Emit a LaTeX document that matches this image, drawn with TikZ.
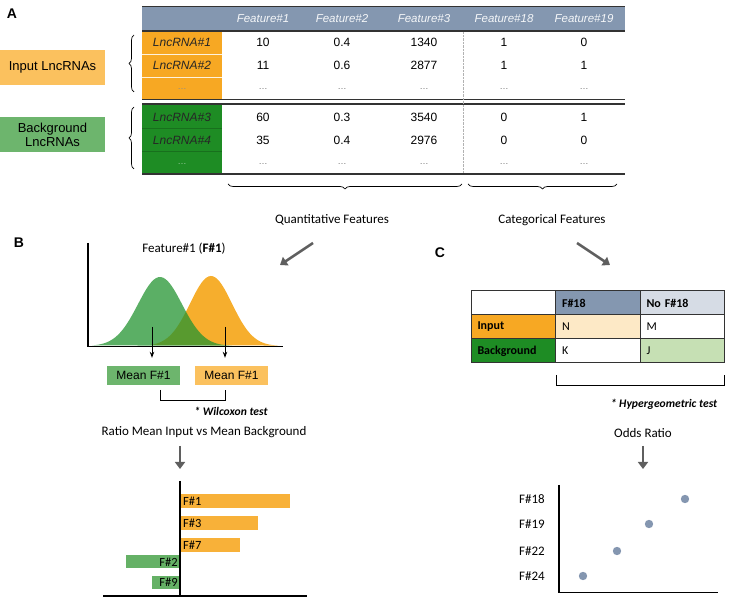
\documentclass[tikz,border=0pt]{standalone}
\usepackage{fontspec}
\setmainfont{Liberation Sans}
\newfontfamily\calib{Carlito}
\usetikzlibrary{arrows.meta,decorations.pathreplacing}
\definecolor{hdrc}{HTML}{8497B0}
\definecolor{hdrlc}{HTML}{D6DCE5}
\definecolor{inpc}{HTML}{F7A823}
\definecolor{inplc}{HTML}{FBC15E}
\definecolor{inpxc}{HTML}{FDE9C6}
\definecolor{bgc}{HTML}{1E8C24}
\definecolor{bglc}{HTML}{6DB56D}
\definecolor{bgxc}{HTML}{C6E0B4}
\definecolor{curgc}{HTML}{249431}
\definecolor{curoc}{HTML}{F6AE2D}
\definecolor{arrc}{HTML}{5F5F5F}
\definecolor{dotc}{HTML}{8496B0}

\tikzset{
  txt/.style={font=\fontsize{12}{14}\selectfont, inner sep=1pt},
  cal/.style={font=\calib\fontsize{13}{15}\selectfont, inner sep=1pt},
  calb/.style={font=\calib\bfseries\fontsize{12}{14}\selectfont},
  note/.style={font=\calib\bfseries\itshape\fontsize{11.6}{14}\selectfont, inner sep=1pt},
  panel/.style={font=\bfseries\fontsize{14}{16}\selectfont, inner sep=0pt},
  fatarrow/.style={-{Triangle[length=7pt,width=10pt]}, line width=2.6pt, arrc},
  brace/.style={decorate, decoration={brace, amplitude=5pt}, line width=0.7pt},
  cellbox/.style={draw=black!80, line width=1pt, minimum width=84.5, minimum height=24, inner sep=0pt,
    font=\calib\fontsize{12}{14}\selectfont, text width=72, align=left}
}

\begin{document}
\begin{tikzpicture}[x=1pt, y=-1pt]
  \useasboundingbox (0,0) rectangle (732,609);

  % ---- A: feature table
  \node[panel] (pa) at (12,14) {A};
  \fill[hdrc] (142,7) rectangle (625,30);
  \fill[inpc] (142,31) rectangle (222,99);
  \fill[bgc] (142,104) rectangle (222,173);
  \draw[white!85!inpc, line width=0.4pt] (142,54) -- (222,54) (142,77) -- (222,77);
  \draw[black!20!bgc, line width=0.4pt] (142,128) -- (222,128) (142,151) -- (222,151);
  \draw[black!80, line width=1.6pt] (142,6.5) -- (625,6.5) (142,31) -- (625,31)
    (142,99.5) -- (625,99.5) (142,104) -- (625,104) (142,174) -- (625,174);
  \draw[black!30, densely dotted] (463,32) -- (463,173);

  \foreach \nm/\x in {1/263, 2/342, 3/424, 18/504, 19/584}
    \node[txt, white!92!hdrc, font=\itshape\fontsize{11.5}{13}\selectfont] (h\nm) at (\x,18.5) {Feature\#\nm};

  \foreach \nm/\y/\a/\b/\c/\d/\e in {1/42/10/0.4/1340/1/0, 2/65/11/0.6/2877/1/1,
                                    3/117/60/0.3/3540/0/1, 4/140/35/0.4/2976/0/0} {
    \node[txt, font=\itshape\fontsize{12}{14}\selectfont, text=black!85] (r\nm) at (182,\y) {LncRNA\#\nm};
    \node[txt] at (263,\y) {\a};
    \node[txt] at (342,\y) {\b};
    \node[txt] at (424,\y) {\c};
    \node[txt] at (504,\y) {\d};
    \node[txt] at (584,\y) {\e};
  }
  \foreach \y/\cl in {89/black!45, 164/white!55!bgc}
    \node[txt, \cl, font=\fontsize{9}{10}\selectfont] at (182,\y) {\ldots};
  \foreach \y in {89, 164}
    \foreach \x in {263, 342, 424, 504, 584}
      \node[txt, black!55, font=\fontsize{9}{10}\selectfont] at (\x,\y) {\ldots};

  % group labels and braces
  \node[txt, font=\fontsize{13}{15}\selectfont, fill=inplc, minimum width=105, minimum height=35, inner sep=0pt]
    (inlab) at (52.5,67.5) {Input LncRNAs};
  \node[txt, font=\fontsize{13}{15}\selectfont, fill=bglc, minimum width=105, minimum height=35, inner sep=0pt,
    align=center] (bglab) at (52.5,134.5) {Background\\[-1pt]LncRNAs};
  \draw[brace] (134,92) -- (134,35);
  \draw[brace] (134,169) -- (134,107);
  \draw[brace] (462,184) -- (228,184);
  \draw[brace] (617,184) -- (468,184);
  \node[cal] (qlab) at (332,220) {Quantitative Features};
  \node[cal] (clab) at (552,220) {Categorical Features};

  \coordinate (qa) at (313,243);
  \coordinate (qb) at (280,265);
  \coordinate (ca) at (577,243);
  \coordinate (cb) at (610,265);
  \draw[fatarrow] (qa) -- (qb);
  \draw[fatarrow] (ca) -- (cb);

  % ---- B: quantitative features
  \node[panel] (pb) at (19,243) {B};
  \node[cal] (f1lab) at (184,249) {Feature\#1 (\textbf{F\#1})};
  \fill[curoc] plot[domain=150:278, samples=60, smooth] (\x, {346-70*exp(-((\x-211)/21)^2/2)}) -- cycle;
  \fill[curgc, fill opacity=0.75] plot[domain=92:232, samples=60, smooth] (\x, {346-69*exp(-((\x-160)/22)^2/2)}) -- cycle;
  \draw[line width=1.2pt] (88,243) -- (88,346.5) -- (283,346.5);

  \node[txt, fill=bglc, minimum width=73, minimum height=19, inner sep=0pt] (mg) at (143.5,375.5) {Mean F\#1};
  \node[txt, fill=inplc, minimum width=73, minimum height=19, inner sep=0pt] (mo) at (231.5,375.5) {Mean F\#1};
  \coordinate (ga) at (152,327);
  \coordinate (oa) at (225,327);
  \draw[-{Stealth[length=6pt]}, line width=0.9pt] (ga) -- ([yshift=8pt]ga |- mg.north);
  \draw[-{Stealth[length=6pt]}, line width=0.9pt] (oa) -- ([yshift=8pt]oa |- mo.north);
  \draw[line width=0.8pt] (160,390) -- (160,400) -- (225,400) -- (225,390);
  \node[note] (wlab) at (231,411) {* Wilcoxon test};

  \node[cal] (ratio) at (204,432) {Ratio Mean Input vs Mean Background};
  \coordinate (ra) at (180,446);
  \coordinate (rb) at (180,469);
  \draw[fatarrow] (ra) -- (rb);

  \foreach \nm/\y/\len in {1/501/110, 3/523.5/78, 7/545/60} {
    \fill[inpc!90!white] (180,\y-7) rectangle ++(\len,14);
    \node[cal, font=\calib\fontsize{12.5}{14}\selectfont, anchor=west, inner sep=0pt] (b\nm) at (183,\y) {F\#\nm};
  }
  \foreach \nm/\y/\len in {2/562/54, 9/582.5/28} {
    \fill[bglc!90!bgc] (180,\y-6.5) rectangle ++(-\len,13);
    \node[cal, font=\calib\fontsize{12.5}{14}\selectfont, anchor=east, inner sep=0pt] (b\nm) at (178,\y) {F\#\nm};
  }
  \draw[line width=1.2pt] (180,481) -- (180,596) (103,596) -- (307,596);

  % ---- C: categorical features
  \node[panel] (pc) at (440,253) {C};
  \node[cellbox] (c00) at (513.5,303) {};
  \node[cellbox, fill=hdrc, calb] (c01) at (598,303) {F\#18};
  \node[cellbox, fill=hdrlc, calb] (c02) at (682.5,303) {No F\#18};
  \node[cellbox, fill=inpc, calb] (c10) at (513.5,327) {Input};
  \node[cellbox, fill=inpxc] (c11) at (598,327) {N};
  \node[cellbox] (c12) at (682.5,327) {M};
  \node[cellbox, fill=bgc, calb] (c20) at (513.5,351) {Background};
  \node[cellbox] (c21) at (598,351) {K};
  \node[cellbox, fill=bgxc] (c22) at (682.5,351) {J};
  \draw[line width=0.8pt] (556.5,375) -- (556.5,385) -- (724,385) -- (724,375);
  \node[note] (hlab) at (664,404) {* Hypergeometric test};

  \node[cal] (odds) at (643,433) {Odds Ratio};
  \coordinate (oda) at (643,446);
  \coordinate (odb) at (643,469);
  \draw[fatarrow] (oda) -- (odb);

  \foreach \nm/\y/\x in {18/499/685, 19/524/649, 22/551/617, 24/576/583} {
    \node[cal, anchor=east] (l\nm) at (546,\y) {F\#\nm};
    \fill[dotc] (\x,\y) circle (4.2);
  }
  \draw[line width=1.2pt] (559,485) -- (559,592.5) -- (718,592.5);
\end{tikzpicture}
\end{document}
